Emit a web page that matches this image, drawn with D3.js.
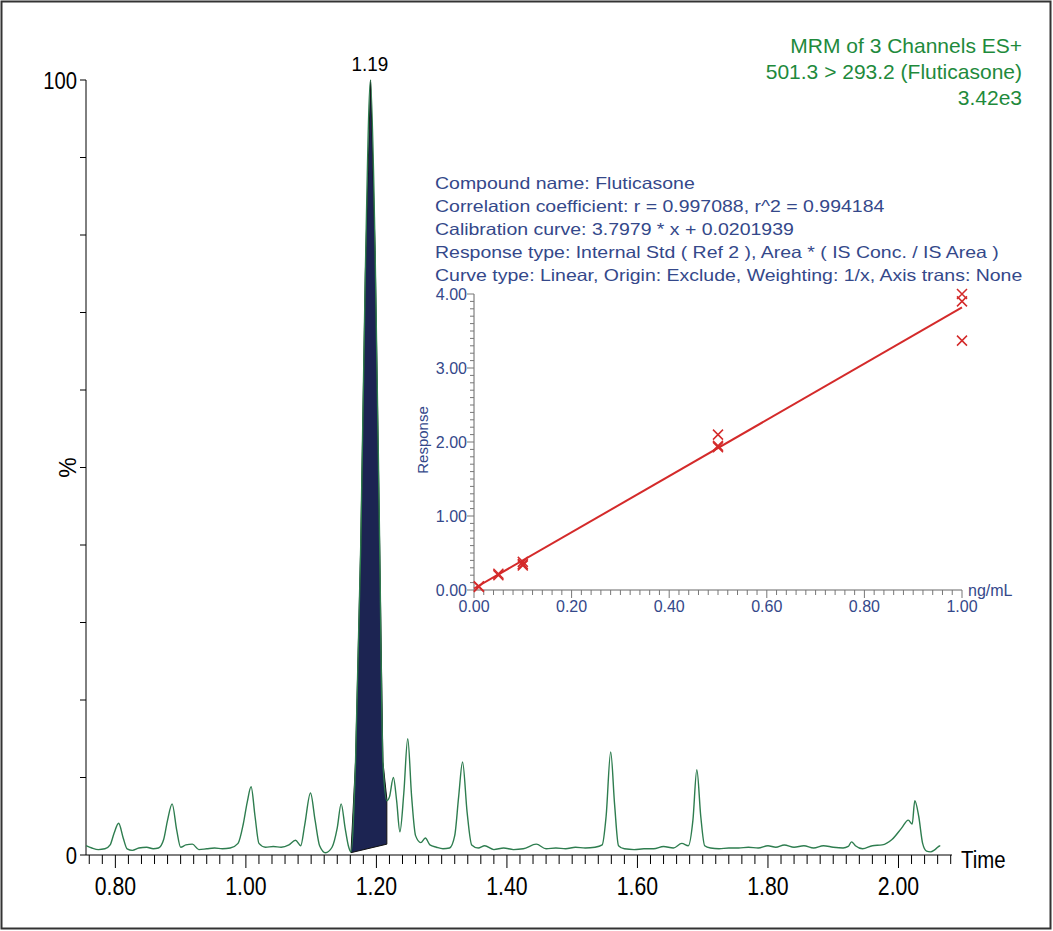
<!DOCTYPE html>
<html><head><meta charset="utf-8">
<script src="https://cdn.jsdelivr.net/npm/d3@7"></script>
<style>body{margin:0;background:#fff}svg{display:block}</style>
</head><body>
<svg id="c" width="1053" height="931"></svg>
<script>
// chromatogram trace: time (min) and relative intensity (%)
const traceTime = [0.755,0.764,0.774,0.784,0.792,0.798,0.805,0.812,0.818,0.826,0.836,0.848,0.858,0.866,0.874,0.880,0.887,0.894,0.900,0.908,0.918,0.928,0.94,0.952,0.964,0.976,0.988,0.996,1.002,1.008,1.014,1.020,1.030,1.042,1.054,1.066,1.076,1.084,1.090,1.099,1.106,1.113,1.122,1.132,1.140,1.146,1.152,1.157,1.161,1.168,1.176,1.183,1.191,1.198,1.205,1.210,1.216,1.220,1.226,1.231,1.236,1.242,1.248,1.254,1.260,1.268,1.275,1.282,1.292,1.302,1.312,1.320,1.326,1.332,1.339,1.346,1.356,1.366,1.38,1.395,1.41,1.425,1.445,1.46,1.475,1.49,1.505,1.52,1.535,1.546,1.552,1.559,1.565,1.571,1.58,1.595,1.61,1.625,1.64,1.655,1.668,1.678,1.685,1.691,1.697,1.703,1.712,1.725,1.74,1.755,1.77,1.785,1.80,1.812,1.825,1.84,1.855,1.87,1.885,1.9,1.915,1.923,1.928,1.934,1.945,1.96,1.975,1.99,2.005,2.015,2.021,2.025,2.031,2.037,2.043,2.049,2.056,2.064,2.072,2.080];
const traceValue = [1.2,0.9,0.7,0.8,1.3,2.8,4.1,2.2,0.8,0.6,0.9,1.0,0.8,0.9,2.0,4.5,6.6,3.2,1.0,1.3,1.4,0.7,0.8,0.9,0.8,0.9,1.5,4.0,6.8,8.8,5.0,1.5,1.0,1.1,1.0,1.3,1.9,1.2,3.8,8.0,4.5,1.2,0.3,1.0,3.5,6.6,3.5,1.2,0.4,12,40,75,100,78,40,12,7.0,7.5,10,7.0,3.0,8.0,15.0,7.5,2.5,1.6,2.2,1.3,1.0,0.8,0.9,2.5,7.5,12.0,5.5,1.3,0.9,1.2,0.7,0.9,0.7,0.8,1.4,0.8,0.9,0.8,1.0,0.9,1.0,1.3,5.0,13.3,6.5,1.2,0.8,0.7,0.8,0.8,1.1,0.9,1.5,1.2,4.5,11.0,5.0,1.2,0.9,0.8,0.9,0.9,1.0,0.9,1.2,1.0,1.3,1.0,1.2,0.9,1.2,1.0,0.9,1.1,1.7,1.2,0.8,1.2,1.3,2.0,3.5,4.5,4.0,7.0,5.0,1.5,0.5,0.4,0.7,1.2];
// integrated peak area region
const areaStart = 1.161, areaEnd = 1.216;
const areaBaseStart = 0.3, areaBaseEnd = 1.4;
const xTickLabels = ["0.80","1.00","1.20","1.40","1.60","1.80","2.00"];
const headerLines = ["MRM of 3 Channels ES+","501.3 > 293.2 (Fluticasone)","3.42e3"];
const peakLabel = {time:1.19, text:"1.19"};
// calibration inset
const calLines = ["Compound name: Fluticasone","Correlation coefficient: r = 0.997088, r^2 = 0.994184","Calibration curve: 3.7979 * x + 0.0201939","Response type: Internal Std ( Ref 2 ), Area * ( IS Conc. / IS Area )","Curve type: Linear, Origin: Exclude, Weighting: 1/x, Axis trans: None"];
const calConc = [0.01,0.01,0.05,0.05,0.10,0.10,0.10,0.50,0.50,0.50,1.00,1.00,1.00];
const calResp = [0.05,0.04,0.20,0.22,0.35,0.38,0.33,2.10,1.95,1.93,4.00,3.90,3.37];
const calSlope = 3.7979, calIntercept = 0.0201939;
const calXTicks = ["0.00","0.20","0.40","0.60","0.80","1.00"];
const calYTicks = ["0.00","1.00","2.00","3.00","4.00"];

const svg = d3.select("#c");
const F = "Liberation Sans, Arial, sans-serif";
svg.append("rect").attr("x",1.5).attr("y",1.5).attr("width",1049).attr("height",927).attr("fill","none").attr("stroke","#333").attr("stroke-width",2);

const x = d3.scaleLinear().domain([0.755,2.082]).range([86,952]);
const y = d3.scaleLinear().domain([0,100]).range([855,80]);

function ntext(g,xp,yp,s,size,anchor,scale){
  return g.append("text").attr("transform",`translate(${xp},${yp}) scale(${scale},1)`).attr("text-anchor",anchor).attr("font-family",F).attr("font-size",size).text(s);
}

// y axis
const ya = svg.append("g");
ya.append("line").attr("x1",86).attr("x2",86).attr("y1",80).attr("y2",855).attr("stroke","#000");
d3.range(0,101,10).forEach(v=>ya.append("line").attr("x1",80).attr("x2",86).attr("y1",y(v)).attr("y2",y(v)).attr("stroke","#000"));
ntext(ya,77,y(100)+9,"100",23,"end",0.88);
ntext(ya,77,y(0)+9,"0",23,"end",0.88);
ya.append("text").attr("transform",`translate(76,${y(50)}) rotate(-90)`).attr("text-anchor","middle").attr("font-family",F).attr("font-size",23).text("%");

// x axis
const xa = svg.append("g");
xa.append("line").attr("x1",86).attr("x2",952).attr("y1",855).attr("y2",855).attr("stroke","#000");
d3.range(0.76,2.081,0.02).forEach(v=>{
  const major = Math.abs(v*10-Math.round(v*10))<1e-6 && Math.round(v*10)%2===0;
  xa.append("line").attr("x1",x(v)).attr("x2",x(v)).attr("y1",855).attr("y2",major?868:864).attr("stroke","#000");
});
xTickLabels.forEach(t=>ntext(xa,x(+t),895,t,25,"middle",0.85));
ntext(xa,961,868,"Time",24,"start",0.85);

// filled peak area
const pts = traceTime.map((t,i)=>[t,traceValue[i]]);
const inArea = pts.filter(p=>p[0]>areaStart && p[0]<areaEnd);
const base = t=>areaBaseStart+(t-areaStart)/(areaEnd-areaStart)*(areaBaseEnd-areaBaseStart);
const topPts = [[areaStart,base(areaStart)],...inArea,[areaEnd,7.2]];
const poly = topPts.concat([[areaEnd,base(areaEnd)],[areaStart,base(areaStart)]]);
svg.append("path").attr("d",d3.line().x(d=>x(d[0])).y(d=>y(d[1]))(poly)).attr("fill","#1c2452").attr("stroke","#111").attr("stroke-width",1);

// trace
svg.append("path").attr("d",d3.line().curve(d3.curveMonotoneX).x(d=>x(d[0])).y(d=>y(d[1]))(pts)).attr("fill","none").attr("stroke","#2e7d4f").attr("stroke-width",1.4);
ntext(svg,x(peakLabel.time),y(100)-9,peakLabel.text,21,"middle",0.9);

// header
headerLines.forEach((s,i)=>svg.append("text").attr("x",1022).attr("y",53+i*26).attr("text-anchor","end").attr("font-family",F).attr("font-size",21).attr("fill","#1e8a3c").text(s));

// inset
const blue = "#34488a";
calLines.forEach((s,i)=>svg.append("text").attr("x",435).attr("y",189+i*23).attr("font-family",F).attr("font-size",16.5).attr("fill",blue).text(s));
svg.selectAll("text").filter(function(){return calLines.includes(this.textContent);}).each(function(){const w=this.getComputedTextLength();d3.select(this).attr("textLength",w*1.18).attr("lengthAdjust","spacingAndGlyphs");});
const cx = d3.scaleLinear().domain([0,1]).range([474,962]);
const cy = d3.scaleLinear().domain([0,4]).range([590,294]);
const ig = svg.append("g");
ig.append("line").attr("x1",474).attr("x2",474).attr("y1",294).attr("y2",590).attr("stroke","#666");
ig.append("line").attr("x1",474).attr("x2",962).attr("y1",590).attr("y2",590).attr("stroke","#666");
d3.range(0,4.001,0.1).forEach(v=>{const m=Math.abs(v-Math.round(v))<1e-6; ig.append("line").attr("x1",m?467:470).attr("x2",474).attr("y1",cy(v)).attr("y2",cy(v)).attr("stroke","#777");});
d3.range(0,1.001,0.02).forEach(v=>{const m=Math.abs(v*5-Math.round(v*5))<1e-6; ig.append("line").attr("x1",cx(v)).attr("x2",cx(v)).attr("y1",590).attr("y2",m?598:595).attr("stroke","#777");});
calYTicks.forEach(t=>ig.append("text").attr("x",467).attr("y",cy(+t)+6).attr("text-anchor","end").attr("font-family",F).attr("font-size",16).attr("fill",blue).text(t));
calXTicks.forEach(t=>ig.append("text").attr("x",cx(+t)).attr("y",612).attr("text-anchor","middle").attr("font-family",F).attr("font-size",16).attr("fill",blue).text(t));
ig.append("text").attr("x",968).attr("y",596).attr("font-family",F).attr("font-size",16).attr("fill",blue).text("ng/mL");
ig.append("text").attr("transform",`translate(428,${cy(2)-2}) rotate(-90)`).attr("text-anchor","middle").attr("font-family",F).attr("font-size",15).attr("fill",blue).text("Response");
ig.append("line").attr("x1",cx(0)).attr("y1",cy(calIntercept)).attr("x2",cx(1)).attr("y2",cy(calSlope+calIntercept)).attr("stroke","#d42a2a").attr("stroke-width",2);
calConc.forEach((c,i)=>{const px=cx(c),py=cy(calResp[i]),s=5;
  ig.append("path").attr("d",`M${px-s},${py-s}L${px+s},${py+s}M${px-s},${py+s}L${px+s},${py-s}`).attr("stroke","#d42a2a").attr("stroke-width",1.5);});
</script>
</body></html>
